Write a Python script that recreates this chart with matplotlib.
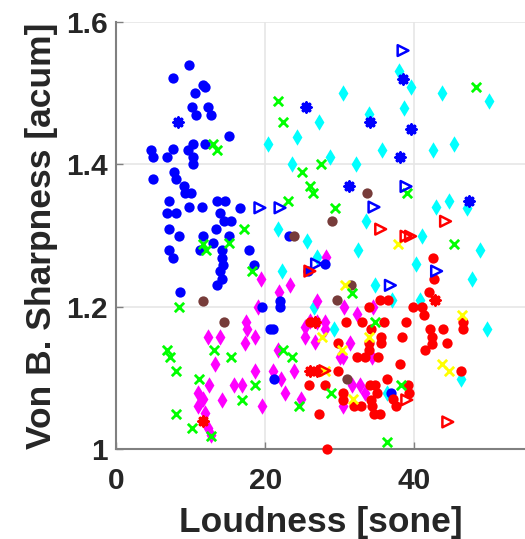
import matplotlib
matplotlib.use("Agg")
import matplotlib.pyplot as plt

# ---- data (Loudness [sone], Sharpness [acum]) ----
blue_dot_x = [9.8, 7.6, 11.9, 11.6, 10.6, 10.2, 10.7, 12.3, 12.8, 15.1, 12.0, 10.3, 7.7, 9.6, 4.7,
              4.9, 6.9, 10.3, 10.3, 7.8, 8.1, 5.0, 9.1, 9.3, 10.1, 7.1, 6.8, 8.1, 9.8, 11.5,
              13.6, 14.6, 16.6, 14.0, 14.5, 15.4, 7.1, 13.4, 8.5, 11.6, 15.1, 23.2, 7.1, 7.7, 11.2,
              13.0, 14.2, 14.2, 14.3, 13.9, 14.2, 13.5, 17.8, 18.5, 8.6, 25.7, 22.0, 22.0, 19.6, 20.7,
              21.1, 21.2, 28.0, 36.9]
blue_dot_y = [1.539, 1.521, 1.509, 1.511, 1.50, 1.48, 1.47, 1.481, 1.470, 1.44, 1.429, 1.429, 1.421, 1.42, 1.42,
              1.41, 1.41, 1.41, 1.40, 1.389, 1.38, 1.379, 1.37, 1.36, 1.36, 1.348, 1.331, 1.331, 1.34, 1.34,
              1.348, 1.348, 1.339, 1.331, 1.32, 1.32, 1.309, 1.309, 1.30, 1.30, 1.299, 1.299, 1.28, 1.269, 1.28,
              1.289, 1.28, 1.269, 1.259, 1.25, 1.239, 1.23, 1.28, 1.259, 1.22, 1.25, 1.208, 1.199, 1.199, 1.169,
              1.169, 1.098, 1.26, 1.078]

blue_star_x = [8.3, 25.5, 38.5, 34.1, 39.6, 38.1, 31.3, 47.3]
blue_star_y = [1.46, 1.48, 1.52, 1.459, 1.45, 1.41, 1.369, 1.349]

blue_tri_x = [19.3, 22.0, 38.5, 38.9, 34.6, 43.0, 36.8, 26.9]
blue_tri_y = [1.339, 1.339, 1.56, 1.369, 1.34, 1.25, 1.23, 1.26]

green_x = [21.7, 22.4, 13.0, 13.5, 24.9, 26.0, 26.4, 23.1, 17.1, 27.5, 48.3, 39.0, 29.4, 11.7, 12.1,
           15.1, 18.3, 8.5, 6.8, 7.2, 13.2, 15.4, 8.1, 11.1, 18.7, 16.9, 8.0, 10.2, 12.7, 22.4,
           23.6, 24.5, 45.3, 31.6, 34.7, 38.2, 28.8, 36.3]
green_y = [1.489, 1.459, 1.429, 1.42, 1.389, 1.369, 1.36, 1.348, 1.309, 1.40, 1.509, 1.36, 1.339, 1.288, 1.28,
           1.289, 1.25, 1.199, 1.139, 1.129, 1.139, 1.129, 1.11, 1.099, 1.09, 1.069, 1.049, 1.029, 1.018, 1.139,
           1.129, 1.06, 1.288, 1.219, 1.179, 1.09, 1.078, 1.01]

cyan_x = [20.4, 24.3, 23.6, 27.2, 21.7, 25.6, 37.9, 39.6, 30.4, 43.7, 50.0, 38.6, 33.9, 45.4, 42.5,
          35.7, 28.7, 32.2, 44.7, 42.9, 47.1, 33.5, 41.0, 22.2, 26.6, 48.8, 32.5, 40.3, 47.7, 34.7,
          40.8, 37.0, 29.3, 49.7, 46.3, 26.9, 36.4]
cyan_y = [1.428, 1.439, 1.40, 1.459, 1.309, 1.293, 1.531, 1.509, 1.50, 1.50, 1.489, 1.479, 1.471, 1.429, 1.42,
          1.42, 1.41, 1.40, 1.348, 1.34, 1.339, 1.32, 1.299, 1.25, 1.199, 1.28, 1.28, 1.26, 1.239, 1.23,
          1.209, 1.209, 1.169, 1.169, 1.098, 1.27, 1.078]

magenta_x = [19.4, 23.4, 21.8, 19.0, 17.4, 17.6, 18.7, 12.3, 14.0, 17.3, 13.3, 21.7, 18.7, 21.0, 23.9,
             22.1, 12.5, 15.8, 16.9, 11.0, 11.6, 11.0, 14.2, 19.6, 22.6, 24.8, 11.9, 12.3, 12.8, 25.4,
             25.4, 26.7, 26.9, 26.0, 28.2, 30.6, 32.3, 34.5, 26.9, 28.0, 28.0, 31.4, 30.1, 30.5, 34.3,
             31.6, 32.7, 33.4, 30.5]
magenta_y = [1.239, 1.23, 1.22, 1.199, 1.179, 1.169, 1.158, 1.158, 1.158, 1.149, 1.119, 1.139, 1.11, 1.11, 1.11,
             1.099, 1.09, 1.09, 1.09, 1.079, 1.07, 1.06, 1.069, 1.06, 1.078, 1.07, 1.05, 1.03, 1.02, 1.171,
             1.158, 1.15, 1.208, 1.18, 1.27, 1.199, 1.19, 1.199, 1.179, 1.179, 1.169, 1.149, 1.129, 1.129, 1.129,
             1.09, 1.09, 1.078, 1.06]

red_dot_x = [25.9, 27.2, 42.5, 42.6, 42.0, 35.4, 36.5, 34.0, 39.9, 41.0, 41.3, 30.8, 33.0, 36.0, 38.9,
             34.2, 42.1, 43.8, 46.5, 46.5, 35.6, 35.6, 38.3, 42.4, 42.4, 44.4, 29.8, 33.9, 33.9, 41.5,
             32.3, 33.4, 35.2, 38.1, 29.8, 46.3, 36.3, 28.0, 34.1, 34.8, 39.2, 30.5, 30.5, 31.9, 32.8,
             35.0, 34.2, 34.3, 34.6, 35.4, 37.2, 37.5, 39.3, 28.3, 26.0]
red_dot_y = [1.09, 1.049, 1.269, 1.239, 1.22, 1.209, 1.209, 1.199, 1.199, 1.199, 1.189, 1.179, 1.179, 1.179, 1.179,
             1.169, 1.169, 1.169, 1.179, 1.169, 1.158, 1.149, 1.158, 1.158, 1.148, 1.149, 1.149, 1.149, 1.139, 1.139,
             1.129, 1.129, 1.129, 1.119, 1.11, 1.11, 1.099, 1.09, 1.09, 1.09, 1.09, 1.079, 1.069, 1.06, 1.06,
             1.078, 1.069, 1.06, 1.049, 1.049, 1.07, 1.06, 1.078, 1.0, 1.179]

red_star_x = [11.7, 26.0, 26.9, 42.8, 26.7]
red_star_y = [1.039, 1.11, 1.11, 1.209, 1.179]

red_tri_x = [35.5, 44.2, 38.9, 39.5, 39.0, 44.5, 28.0, 26.0]
red_tri_y = [1.309, 1.32, 1.299, 1.299, 1.069, 1.038, 1.11, 1.25]

brown_x = [23.9, 33.7, 29.0, 11.6, 14.5, 31.5, 29.7, 31.0]
brown_y = [1.299, 1.36, 1.32, 1.208, 1.179, 1.23, 1.209, 1.099]

yellow_x = [37.8, 30.7, 27.6, 33.9, 30.3, 46.4, 43.7, 44.7, 31.8, 28.0]
yellow_y = [1.288, 1.23, 1.158, 1.158, 1.139, 1.189, 1.119, 1.11, 1.07, 1.11]

x_ticks = [0, 20, 40]
y_ticks = [1.0, 1.2, 1.4, 1.6]
y_ticklabels = ["1", "1.2", "1.4", "1.6"]

# ---- figure ----
plt.rcParams['font.family'] = ['Liberation Sans', 'DejaVu Sans']
fig = plt.figure(figsize=(5.25, 5.39), dpi=100)
ax = fig.add_axes([0.221, 0.167, 0.781, 0.792])

ms = 55
ax.scatter(cyan_x, cyan_y, s=70, marker='d', color='#00FFFF', linewidths=0, zorder=3)
ax.scatter(magenta_x, magenta_y, s=70, marker='d', color='#FF00FF', linewidths=0, zorder=3)
ax.scatter(blue_dot_x, blue_dot_y, s=ms, marker='o', color='#0000FF', linewidths=0, zorder=4)
ax.scatter(red_dot_x, red_dot_y, s=ms, marker='o', color='#FF0000', linewidths=0, zorder=4)
ax.scatter(red_star_x, red_star_y, s=40, marker=(8, 2, 0), color='#FF0000', linewidths=2.5, zorder=4)
ax.scatter(brown_x, brown_y, s=ms, marker='o', color='#773C3A', linewidths=0, zorder=4)
ax.scatter(yellow_x, yellow_y, s=45, marker='x', color='#FFFF00', linewidths=2, zorder=5)
ax.scatter(green_x, green_y, s=45, marker='x', color='#00FF00', linewidths=2, zorder=5)
ax.scatter(blue_star_x, blue_star_y, s=40, marker=(8, 2, 0), color='#0000FF', linewidths=2.5, zorder=5)
ax.scatter(blue_tri_x, blue_tri_y, s=60, marker='>', facecolors='none', edgecolors='#0000FF',
           linewidths=1.8, zorder=6)
ax.scatter(red_tri_x, red_tri_y, s=60, marker='>', facecolors='none', edgecolors='#FF0000',
           linewidths=1.8, zorder=6)

ax.set_xlim(0, 55)
ax.set_ylim(1.0, 1.6)
ax.set_xticks(x_ticks)
ax.set_yticks(y_ticks)
ax.set_yticklabels(y_ticklabels)

ax.grid(True, color='#E6E6E6', linewidth=1.2, zorder=0)
ax.set_axisbelow(True)
for s in ['top', 'right']:
    ax.spines[s].set_visible(False)
for s in ['left', 'bottom']:
    ax.spines[s].set_color('#808080')
    ax.spines[s].set_linewidth(1.5)
    ax.spines[s].set_zorder(2)
for c in ax.collections:
    c.set_clip_on(False)

ax.tick_params(axis='both', direction='in', length=5, width=1, color='#808080',
               labelsize=21.5, labelcolor='#262626', pad=6)
ax.tick_params(axis='x', pad=13)
for lab in ax.get_xticklabels() + ax.get_yticklabels():
    lab.set_fontweight('bold')

ax.set_xlabel('Loudness [sone]', fontsize=25.5, fontweight='bold', color='#262626', labelpad=8)
ax.set_ylabel('Von B. Sharpness [acum]', fontsize=25.5, fontweight='bold', color='#262626', labelpad=6)

fig.savefig('out.png', dpi=100)
